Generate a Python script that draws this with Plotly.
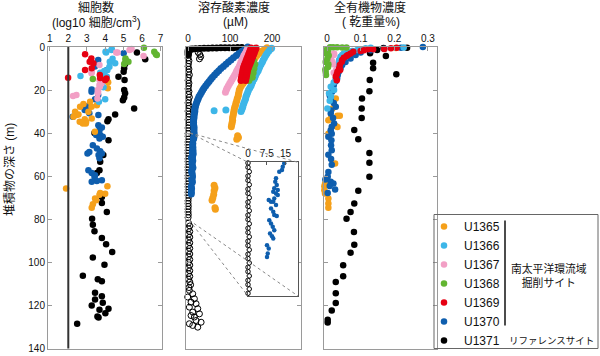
import plotly.graph_objects as go

W, H = 600, 356

# ---------------- data ----------------
stations = ["U1365", "U1366", "U1367", "U1368", "U1369", "U1370", "U1371"]

# Panel 1: cell abundance (log10 cells/cm3) vs depth (m)
cell_U1365_depth = [16.4, 19.2, 25.4, 26.5, 27.0, 27.8, 27.8, 30.1, 30.1, 31.3, 31.6, 32.4, 33.2, 33.5, 34.7, 34.7, 35.5, 35.5, 39.4, 64.7, 65.7, 67.8, 68.1, 68.6, 70.4, 71.2, 73.0, 74.6]
cell_U1365 = [4.16, 4.14, 3.18, 2.82, 3.55, 2.64, 3.26, 2.37, 3.09, 2.55, 2.44, 2.28, 3.27, 2.89, 2.62, 2.97, 2.95, 2.79, 3.44, 4.12, 1.88, 3.73, 4.00, 3.69, 3.45, 3.51, 3.33, 3.27]
cell_U1366_depth = [1.1, 1.4, 2.2, 2.5, 5.5, 6.8, 7.6, 9.2, 10.7, 11.2, 12.0, 12.2, 13.5, 13.8, 14.6, 16.9, 18.7, 24.3, 25.4]
cell_U1366 = [4.36, 4.34, 4.02, 4.05, 4.40, 4.25, 4.54, 4.23, 4.12, 3.95, 3.73, 3.94, 2.66, 4.09, 3.85, 3.82, 3.91, 4.00, 3.66]
cell_U1367_depth = [0.9, 1.4, 2.5, 2.6, 4.2, 8.4, 11.5, 12.2, 15.3, 16.9, 17.6, 18.4, 20.0, 20.8, 21.5, 22.3, 22.8, 23.9]
cell_U1367 = [5.43, 5.32, 4.67, 4.60, 6.08, 3.69, 3.27, 3.26, 3.69, 3.80, 3.69, 3.71, 3.60, 3.62, 3.60, 2.44, 2.26, 3.58]
cell_U1368_depth = [0.3, 2.2, 3.4, 3.7, 5.3, 6.0, 6.8, 7.9, 14.9]
cell_U1368 = [6.10, 6.66, 6.75, 6.80, 5.10, 5.10, 5.26, 5.03, 3.33]
cell_U1369_depth = [3.4, 5.3, 6.8, 7.6, 9.9, 10.7, 13.0, 14.3, 14.4, 14.6, 15.3]
cell_U1369 = [2.91, 3.25, 3.16, 3.36, 3.27, 2.91, 3.71, 1.99, 3.73, 4.07, 4.00]
cell_U1370_depth = [2.9, 6.0, 9.1, 10.7, 19.7, 20.8, 22.3, 24.3, 27.4, 27.7, 28.5, 29.3, 30.8, 31.6, 32.4, 36.3, 37.4, 38.6, 40.1, 40.9, 40.9, 41.7, 42.5, 45.6, 47.1, 48.4, 48.7, 49.5, 49.5, 50.2, 51.7, 57.2, 58.5, 59.5, 60.3, 61.9, 62.2, 62.6]
cell_U1370 = [5.00, 3.62, 3.44, 4.09, 3.27, 3.26, 3.62, 3.45, 3.09, 3.07, 2.91, 2.89, 3.14, 3.63, 2.24, 3.63, 3.82, 3.69, 3.55, 3.73, 3.51, 3.87, 3.69, 3.33, 3.55, 3.73, 3.14, 3.04, 3.82, 3.64, 3.69, 3.09, 3.27, 3.45, 3.42, 3.82, 3.55, 3.27]
cell_U1371_depth = [2.6, 5.7, 7.9, 9.9, 11.5, 13.8, 15.3, 20.0, 21.5, 23.4, 24.7, 28.5, 31.3, 33.6, 34.5, 39.9, 43.3, 50.2, 53.3, 57.2, 58.5, 69.6, 72.4, 76.6, 79.7, 82.5, 85.6, 88.7, 91.6, 95.2, 97.8, 101.1, 106.2, 107.8, 108.8, 114.1, 115.7, 117.2, 118.7, 120.0, 121.5, 122.0, 123.6, 125.1, 125.6, 128.5]
cell_U1371 = [5.72, 6.17, 5.08, 5.03, 5.00, 4.72, 5.05, 5.03, 5.08, 5.03, 4.96, 5.57, 4.54, 4.18, 4.12, 3.42, 4.18, 3.90, 3.73, 3.69, 3.55, 3.82, 3.82, 4.09, 3.29, 3.33, 3.42, 3.82, 4.05, 4.38, 3.33, 3.96, 2.79, 3.60, 3.82, 3.45, 3.82, 3.45, 3.87, 3.27, 4.18, 3.69, 4.01, 3.58, 3.64, 2.48]
detection_limit = 2.0

# Panel 2: dissolved oxygen (uM) vs depth (m)
oxy_U1365_depth = [0.3, 1, 2, 3, 4, 5, 6, 7, 8, 9, 10, 11, 12, 13, 14, 15, 16, 17, 18, 19, 20, 21, 22, 23, 24, 25, 26, 27, 28, 29, 30, 31, 32, 33, 34, 35, 36, 37, 41.2, 42.0, 42.8, 64.2, 65.5, 66.8, 68.5, 70.0, 71.2, 74.6, 75.3]
oxy_U1365 = [188, 182, 175, 169, 164, 160, 157, 153, 151, 149, 147, 145, 143, 141, 139, 137, 134, 131, 127, 124, 122, 121, 120, 119, 117, 116, 114, 113, 111, 110, 109, 108, 107, 106, 106, 105, 104, 103, 118, 120, 116, 62, 64, 62, 61, 59, 57, 64, 65]
oxy_U1366_depth = [0.6, 1, 2, 3, 4, 5, 6, 7, 8, 9, 10, 11, 12, 13, 14, 15, 16, 17, 18, 19, 20, 21, 22, 23, 24, 25, 26, 27, 28, 29, 30, 29.3, 29.6]
oxy_U1366 = [199, 196, 192, 188, 185, 182, 179, 177, 174, 171, 169, 167, 164, 161, 159, 157, 154, 152, 150, 147, 144, 142, 140, 138, 137, 135, 133, 131, 130, 128, 126, 90, 62]
oxy_U1367_depth = [1, 2, 3, 4, 5, 6, 7, 8, 9, 10, 11, 12, 13, 14, 15, 16, 17, 18, 19, 20, 21]
oxy_U1367 = [141, 139, 136, 133, 131, 129, 126, 124, 122, 119, 116, 114, 111, 108, 105, 102, 99, 96, 93, 91, 89]
oxy_U1368_depth = [6.5, 7.5, 8.5, 9.5, 10.5, 11.5, 12.5, 13.5, 14.5, 15.5, 8, 10, 12, 14]
oxy_U1368 = [156, 154, 152, 151, 150, 149, 148, 147, 146, 145, 159, 157, 155, 153]
oxy_U1369_depth = [0.5, 1.5, 2.5, 3.5, 4.5, 5.5, 6.5, 7.5, 8.5, 9.5, 10.5, 11.5, 12.5, 13.5, 14.5, 15.5,
                   0.5, 1.5, 2.5, 3.5, 4.5, 5.5, 6.5, 7.5, 8.5, 9.5, 10.5, 11.5, 12.5, 13.5, 14.5, 15.5]
oxy_U1369 = [150, 148, 146, 144, 142, 140, 138, 136, 134, 132, 131, 130, 129, 128, 127, 126,
             162, 160, 158, 156, 154, 152, 150, 148, 146, 144, 142, 141, 140, 139, 138, 137]
oxy_U1370_depth = [0, 1, 2, 3, 4, 5, 6, 7, 8, 9, 10, 11, 12, 13, 14, 15, 16, 17, 18, 19, 20, 21, 22, 23, 24, 25, 26, 27, 28, 29, 30, 31, 32, 33, 34, 35, 36, 37, 38, 39,
                   40.3, 41.3, 42.3, 42.8, 44.8, 45.8, 46.8, 47.8, 48.3, 48.8, 49.3, 49.8, 50.8, 51.3, 51.8, 51.8, 52.8, 53.8, 54.8, 55.8, 56.1, 57.3, 58.3, 59.3, 60.3, 61.3, 62.1, 62.8, 64.8, 65.8, 67.3, 68.3]
oxy_U1370 = [142, 135, 128, 121, 115, 108, 102, 96, 90, 84, 78, 73, 68, 63, 58, 54, 50, 46, 42, 38, 35, 32, 29, 26, 24, 22, 20, 18, 17, 16, 16, 15, 14, 14, 13, 13, 13, 14, 14, 14,
             14.5, 13.9, 13.6, 12.5, 11.2, 10.9, 11.5, 10.5, 11.9, 10.1, 11.2, 11.9, 10.5, 8.3, 9.2, 10.1, 11.2, 9.2, 10.1, 10.5, 11.5, 8.5, 9.2, 9.9, 10.5, 8.8, 9.6, 10.1, 7.6, 8.3, 7.9, 7.6]
oxy_U1371_depth = [0.2, 0.2, 0.3, 0.3, 0.4, 0.4, 0.5, 0.5, 0.6, 0.6, 0.7, 0.8, 0.9, 1.0, 1.3, 1.7, 2.5, 3.5]
oxy_U1371 = [128, 118, 108, 98, 88, 78, 68, 58, 48, 38, 28, 18, 10, 5, 2, 0, 0, 0]
oxy_U1371_open_depth = [2.5, 3.5, 4.5, 5.5,
                        1.2, 2.5, 3.8, 5.1, 6.4, 7.7, 9.0, 10.3, 11.6, 12.9, 14.2, 15.5, 16.8, 18.1, 19.4, 20.7, 22.0, 23.3, 24.6, 25.9, 27.2, 28.5, 29.8, 31.1, 32.4, 33.7, 35.0, 36.3, 37.6, 38.9,
                        40.2, 41.5, 42.8, 44.1, 45.4, 46.7, 48.0, 49.3, 50.6, 51.9, 53.2, 54.5, 55.8, 57.1, 58.4, 59.7, 61.0, 62.3, 63.6, 64.9, 66.2, 67.5, 68.8, 70.1, 71.4, 72.7, 74.0, 75.3, 76.6, 77.9, 79.2,
                        81.8, 83.1, 84.4, 85.7, 87.0, 88.3, 89.6, 90.9, 92.2, 93.5, 94.8, 96.1, 97.4, 98.7, 100.0, 101.3, 102.6, 103.9, 105.2, 106.5, 107.8, 109.1, 110.4, 111.7,
                        113.0, 114.6, 116.1, 116.9, 118.5, 119.2, 120.8, 121.5, 123.1, 123.9, 124.7, 125.4, 127.0, 127.8, 128.5, 129.3, 130.1]
oxy_U1371_open = [24, 28, 30, 27,
                  1, 2, 1, 0, 2, 1, 0, 2, 1, 3, 1, 0, 2, 1, 0, 2, 1, 3, 1, 0, 2, 1, 0, 2, 1, 0, 2, 1, 0, 1,
                  0, 0, 0.5, 0, 0, 0.5, 0, 0, 0.5, 0, 0, 0.5, 0, 0, 0.5, 0, 0, 0.5, 0, 0, 0.5, 0, 0, 0.5, 0, 0, 0.5, 0, 0, 0.5, 0,
                  1, 4, 1, 4, 1, 4, 1, 4, 1, 4, 1, 4, 1, 4, 1, 4, 1, 4, 1, 4, 1, 4, 6, 2,
                  3, 11, -1, 15, 7, 19, 3, 23, 11, 27, 7, 15, 19, 31, 3, 11, 23]

# Panel 3: total organic carbon (dry wt %) vs depth (m)
toc_U1365_depth = [0.5, 23.9, 28.5, 31.9, 31.9, 33.2, 34.0, 36.3, 36.7, 37.1, 40.3, 54.1, 63.5, 64.7, 66.5, 68.0, 70.4, 72.7, 74.6]
toc_U1365 = [0.205, 0.026, 0.016, 0.031, 0.038, 0.011, 0.004, 0.021, 0.026, 0.031, 0.004, 0.024, -0.006, -0.008, -0.008, -0.006, 0.004, 0.004, 0.004]
toc_U1366_depth = [0.2, 0.3, 0.6, 1.0, 1.4, 1.8, 2.2, 3.0, 3.7, 4.5, 6.0, 8.0, 9.9, 12.0, 14.6, 16.5, 18.4, 20.0, 21.5, 23.0, 25.0, 28.5]
toc_U1366 = [0.228, 0.130, 0.115, 0.100, 0.090, 0.075, 0.060, 0.050, 0.045, 0.040, 0.036, 0.033, 0.031, 0.028, 0.026, 0.020, 0.011, 0.021, 0.006, 0.012, 0.008, 0.001]
toc_U1367_depth = [3.0, 3.7, 4.5, 5.3, 6.8, 8.0, 10.7, 12.0]
toc_U1367 = [0.021, 0.020, 0.013, 0.011, 0.016, 0.018, 0.027, 0.020]
toc_U1368_depth = [0.1, 0.1, 0.1, 0.2, 0.2, 1.0, 1.7, 3.0, 4.0, 5.4, 7.0, 8.0, 9.3, 10.5, 11.6, 13.0]
toc_U1368 = [0.009, 0.018, 0.030, 0.045, 0.058, 0.000, 0.003, -0.002, 0.005, 0.001, -0.004, 0.004, 0.003, -0.005, -0.004, -0.003]
toc_U1369_depth = [0.3, 0.6, 0.9, 1.1, 1.1, 1.5, 1.9, 2.2, 3.0, 3.7, 4.2, 5.0, 6.0, 6.8, 8.4, 10.0, 10.7, 11.5, 12.7, 13.8, 15.4]
toc_U1369 = [0.207, 0.190, 0.170, 0.137, 0.123, 0.110, 0.100, 0.078, 0.070, 0.062, 0.058, 0.050, 0.045, 0.044, 0.038, 0.036, 0.039, 0.031, 0.029, 0.026, 0.029]
toc_U1370_depth = [0.0, 0.3, 0.8, 1.5, 2.5, 3.7, 5.3, 7.0, 8.4, 10.0, 11.5, 13.0, 14.6, 16.0, 17.7, 19.0, 20.8, 22.5, 24.6, 26.0, 27.8, 29.5, 30.9, 33.0, 35.5, 37.0, 38.6, 40.3, 41.7, 43.3, 45.6, 48.0, 50.0, 52.0, 54.7, 58.1, 60.3, 61.5, 62.6, 63.4, 64.5, 66.2, 67.8]
toc_U1370 = [0.285, 0.220, 0.170, 0.130, 0.100, 0.085, 0.070, 0.055, 0.045, 0.040, 0.035, 0.032, 0.030, 0.025, 0.020, 0.018, 0.015, 0.008, 0.011, 0.020, 0.026, 0.012, 0.011, 0.018, 0.021, 0.014, 0.011, 0.014, 0.004, 0.013, 0.012, 0.014, 0.004, 0.012, 0.014, 0.004, 0.002, -0.005, 0.011, 0.019, 0.008, 0.024, 0.002]
toc_U1371_depth = [0.3, 0.5, 1.4, 2.9, 4.2, 7.3, 9.9, 12.7, 15.3, 20.5, 23.9, 28.5, 33.0, 38.5, 42.8, 49.2, 53.8, 60.3, 66.8, 72.7, 76.6, 79.7, 85.9, 91.8, 95.5, 101.4, 106.4, 109.1, 114.3, 118.9, 122.3, 126.7, 127.9]
toc_U1371 = [0.238, 0.168, 0.149, 0.128, 0.175, 0.137, 0.137, 0.206, 0.127, 0.126, 0.104, 0.103, 0.103, 0.081, 0.093, 0.126, 0.126, 0.126, 0.093, 0.081, 0.070, 0.058, 0.080, 0.081, 0.070, 0.048, 0.048, 0.026, 0.026, 0.026, 0.014, 0.002, 0.002]

depth_ticks = [0, 20, 40, 60, 80, 100, 120, 140]
cell_ticks = [1, 2, 3, 4, 5, 6, 7]
oxy_ticks = [0, 100, 200]
toc_ticks = [0, 0.1, 0.2, 0.3]
toc_ticktext = ["0", "0.1", "0.2", "0.3"]
inset_ticks = [0, 7.5, 15]
inset_ticktext = ["0", "7.5", "15"]

# ---------------- style ----------------
colors = {"U1365": "#F5A01A", "U1366": "#3DB6E8", "U1367": "#F29FC5", "U1368": "#62B531",
          "U1369": "#E60012", "U1370": "#0E5EAE", "U1371": "#000000"}
FONT = "Liberation Sans, Noto Sans CJK JP, sans-serif"
JFONT = "Noto Sans CJK JP, sans-serif"
GRAY = "#9a9a9a"


def px_x(p):
    return p / W


def px_y(p):
    return 1 - p / H


fig = go.Figure()

cell_data = {
    "U1365": (cell_U1365, cell_U1365_depth), "U1366": (cell_U1366, cell_U1366_depth),
    "U1367": (cell_U1367, cell_U1367_depth), "U1368": (cell_U1368, cell_U1368_depth),
    "U1369": (cell_U1369, cell_U1369_depth), "U1370": (cell_U1370, cell_U1370_depth),
    "U1371": (cell_U1371, cell_U1371_depth),
}
oxy_data = {
    "U1371": (oxy_U1371, oxy_U1371_depth), "U1370": (oxy_U1370, oxy_U1370_depth),
    "U1367": (oxy_U1367, oxy_U1367_depth), "U1365": (oxy_U1365, oxy_U1365_depth),
    "U1366": (oxy_U1366, oxy_U1366_depth), "U1368": (oxy_U1368, oxy_U1368_depth),
    "U1369": (oxy_U1369, oxy_U1369_depth),
}
toc_data = {
    "U1371": (toc_U1371, toc_U1371_depth), "U1365": (toc_U1365, toc_U1365_depth),
    "U1370": (toc_U1370, toc_U1370_depth), "U1366": (toc_U1366, toc_U1366_depth),
    "U1367": (toc_U1367, toc_U1367_depth), "U1368": (toc_U1368, toc_U1368_depth),
    "U1369": (toc_U1369, toc_U1369_depth),
}

draw_order = ["U1371", "U1370", "U1365", "U1366", "U1367", "U1368", "U1369"]


def scatter(x, y, color, xa, ya, size=6.5, symbol="circle", lw=0, name=None, legend=False, rank=None, clip=False):
    assert len(x) == len(y), (name, len(x), len(y))
    return go.Scatter(x=x, y=y, mode="markers", xaxis=xa, yaxis=ya, cliponaxis=clip,
                      marker=dict(color=color, size=size, symbol=symbol, line=dict(width=lw, color=color)),
                      name=name, showlegend=legend, legendrank=rank, hoverinfo="skip")


# panel 1
for s in draw_order:
    v, d = cell_data[s]
    fig.add_trace(scatter(v, d, colors[s], "x", "y", name=s, legend=True, rank=stations.index(s) + 1))

# panel 2
fig.add_trace(scatter(oxy_U1371_open, oxy_U1371_open_depth, colors["U1371"], "x2", "y2", size=6,
                      symbol="circle-open", lw=1))
for s in ["U1371", "U1370", "U1367", "U1365", "U1366", "U1368", "U1369"]:
    v, d = oxy_data[s]
    fig.add_trace(scatter(v, d, colors[s], "x2", "y2", size=7))

# inset (40-80 m)
ins_open = [(v, d) for v, d in zip(oxy_U1371_open, oxy_U1371_open_depth) if 39.5 <= d <= 80]
ins_blue = [(v, d) for v, d in zip(oxy_U1370, oxy_U1370_depth) if 39.5 <= d <= 80]
fig.add_trace(scatter([p[0] for p in ins_open], [p[1] for p in ins_open], colors["U1371"], "x4", "y4",
                      size=4.5, symbol="circle-open", lw=1))
fig.add_trace(scatter([p[0] for p in ins_blue], [p[1] for p in ins_blue], colors["U1370"], "x4", "y4", size=4.5))

# panel 3
for s in ["U1371", "U1365", "U1370", "U1366", "U1367", "U1368", "U1369"]:
    v, d = toc_data[s]
    fig.add_trace(scatter(v, d, colors[s], "x3", "y3", size=6.5))

ydom = [px_y(348.5), px_y(47)]
axis_common = dict(showgrid=False, zeroline=False, showline=True, linecolor=GRAY, linewidth=1,
                   ticks="inside", ticklen=4, tickcolor=GRAY, tickfont=dict(size=10, color="#111", family=FONT),
                   automargin=False)

LEG_LEFT, LEG_TOP = 424, 212

fig.update_layout(
    width=W, height=H, autosize=False,
    margin=dict(l=0, r=0, t=0, b=0, autoexpand=False),
    paper_bgcolor="white", plot_bgcolor="white",
    font=dict(family=FONT, size=10, color="#111"),
    hovermode=False,
    xaxis=dict(domain=[px_x(48), px_x(162)], range=[0.9, 7.08], side="top", anchor="y",
               tickvals=cell_ticks, mirror=True, **axis_common),
    yaxis=dict(domain=ydom, range=[140, 0], anchor="x", tickvals=depth_ticks, mirror="ticks", **axis_common),
    xaxis2=dict(domain=[px_x(186), px_x(301)], range=[-5, 269], side="top", anchor="y2",
                tickvals=oxy_ticks, mirror=True, **axis_common),
    yaxis2=dict(domain=ydom, range=[140, 0], anchor="x2", tickvals=depth_ticks, showticklabels=False,
                mirror="ticks", **axis_common),
    xaxis3=dict(domain=[px_x(324), px_x(437)], range=[-0.009, 0.327], side="top", anchor="y3",
                tickvals=toc_ticks, ticktext=toc_ticktext, mirror=True, **axis_common),
    yaxis3=dict(domain=ydom, range=[140, 0], anchor="x3", tickvals=depth_ticks, showticklabels=False,
                mirror="ticks", **axis_common),
    xaxis4=dict(domain=[px_x(248), px_x(298)], range=[0, 20], side="top", anchor="y4",
                tickvals=inset_ticks, ticktext=inset_ticktext, showgrid=False, zeroline=False,
                showline=True, linecolor="#555", linewidth=1, mirror=True, ticks="inside", ticklen=3,
                tickcolor="#555", tickfont=dict(size=10, color="#111", family=FONT)),
    yaxis4=dict(domain=[px_y(296), px_y(162.3)], range=[80, 40], anchor="x4", showticklabels=False,
                showgrid=False, zeroline=False, showline=True, linecolor="#555", linewidth=1, mirror=True,
                ticks=""),
    showlegend=True,
    legend=dict(x=px_x(LEG_LEFT), y=px_y(LEG_TOP), xanchor="left", yanchor="top", bgcolor="rgba(0,0,0,0)",
                borderwidth=0, font=dict(size=12, family=FONT, color="#111"), traceorder="normal",
                tracegroupgap=0),
)

row0 = LEG_TOP + 13.5
rows = [row0 + 19 * k for k in range(7)]

shapes = []
# detection limit line
shapes.append(dict(type="line", xref="x", yref="y domain", x0=detection_limit, x1=detection_limit, y0=0, y1=1,
                   line=dict(color="#333", width=2)))
# inset connector lines
for (sx, sy), (ex, ey) in [((190, 133), (248, 162.3)), ((190, 133), (298, 162.3)),
                           ((189, 220), (248, 296)), ((189, 220), (298, 296))]:
    shapes.append(dict(type="line", xref="paper", yref="paper", x0=px_x(sx), y0=px_y(sy), x1=px_x(ex), y1=px_y(ey),
                       line=dict(color="#888", width=1, dash="dot")))
# legend frame and bracket
shapes.append(dict(type="rect", xref="paper", yref="paper", x0=px_x(434), x1=px_x(598), y0=px_y(rows[0] - 11),
                   y1=px_y(rows[6] + 9), line=dict(color="#666", width=1)))
shapes.append(dict(type="line", xref="paper", yref="paper", x0=px_x(505), x1=px_x(505), y0=px_y(rows[0] - 5),
                   y1=px_y(rows[5] + 5), line=dict(color="#111", width=1.5)))
fig.update_layout(shapes=shapes)

ann = []


def text(x, y, t, size=12, xanchor="center", angle=0, family=FONT):
    ann.append(dict(x=px_x(x), y=px_y(y), xref="paper", yref="paper", text=t, showarrow=False,
                    xanchor=xanchor, yanchor="middle", textangle=angle,
                    font=dict(size=size, family=family, color="#111")))


text(96, 7.5, "細胞数")
text(96, 22.5, "(log10 細胞/cm<sup>3</sup>)")
text(234, 7.5, "溶存酸素濃度")
text(235, 22.5, "(µM)")
text(370, 7.5, "全有機物濃度")
text(371, 22.5, "( 乾重量%)")
text(10, 170, "堆積物の深さ (m)", angle=-90)
text(509, (rows[0] + rows[5]) / 2 + 2, "南太平洋環流域<br>掘削サイト", size=10.8, xanchor="left", family=JFONT)
text(507, rows[6], "リファレンスサイト", size=9.5, xanchor="left", family=JFONT)
fig.update_layout(annotations=ann)

fig.write_html("out.html", config={"displayModeBar": False, "staticPlot": False},
               post_script="document.body.style.margin='0px';")
